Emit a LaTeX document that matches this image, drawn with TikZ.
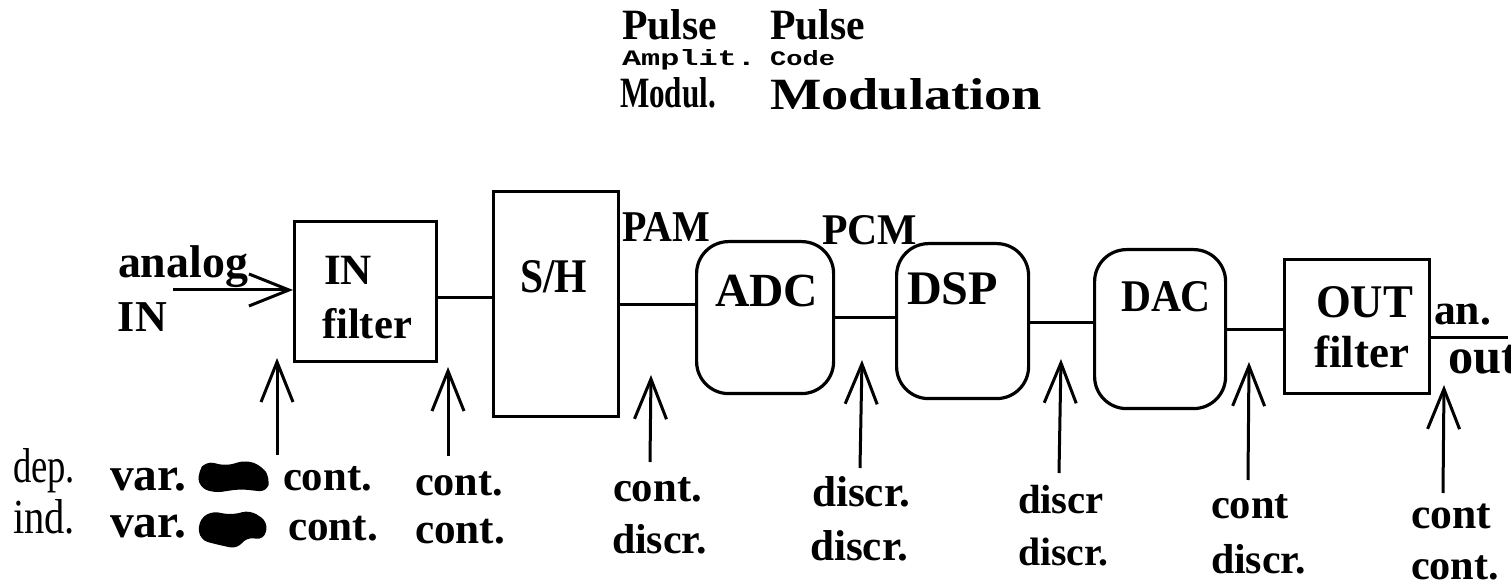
\documentclass[tikz,border=0pt]{standalone}
\usepackage{fontspec}
\setmainfont{Liberation Serif}
\newfontfamily\lab{Liberation Serif}
\newfontfamily\monolab{Liberation Mono}
\usetikzlibrary{arrows.meta}
\newdimen\px \px=0.5pt
\newcommand{\tw}[2]{\resizebox{#1\px}{!}{\lab\bfseries #2}}
\newcommand{\twh}[3]{\resizebox{#1\px}{#2\px}{\lab\bfseries #3}}
\newcommand{\twr}[3]{\resizebox{#1\px}{#2\px}{\lab #3}}
\newcommand{\twm}[3]{\resizebox{#1\px}{#2\px}{\monolab\bfseries #3}}
\begin{document}
\begin{tikzpicture}[x=0.5pt,y=-0.5pt,line width=1.5pt,
  txt/.style={inner sep=0pt,outer sep=0pt,anchor=base west},
  blk/.style={draw,line width=1.6pt,inner sep=0pt,anchor=north west},
  rblk/.style={blk,rounded corners=16pt},
  arr/.style={-{Straight Barb[length=20pt,width=16pt]},line width=1.5pt}]
\useasboundingbox (0,0) rectangle (1511,588);

% ---------- top labels ----------
\node[txt] (pulseA) at (622,40) {\twh{95}{30}{Pulse}};
\node[txt] (amplit) at (622,66) {\twm{134}{16}{Amplit.}};
\node[txt] (modul)  at (620,108) {\twh{96}{30}{Modul.}};
\node[txt] (pulseB) at (770,40) {\twh{95}{30}{Pulse}};
\node[txt] (code)   at (770,66) {\twm{65}{15}{Code}};
\node[txt] (modulation) at (770,110) {\twh{272}{31}{Modulation}};

% ---------- blocks ----------
\node[blk,minimum width=71pt,minimum height=70pt] (inf) at (293,220) {};
\node[blk,minimum width=62.5pt,minimum height=112.5pt] (sh) at (492,190) {};
\node[rblk,minimum width=68.5pt,minimum height=76pt] (adc) at (695,240) {};
\node[rblk,minimum width=66pt,minimum height=77.5pt] (dsp) at (895,242) {};
\node[rblk,minimum width=65.5pt,minimum height=79.5pt] (dac) at (1093,248) {};
\node[blk,minimum width=72.5pt,minimum height=67pt] (outf) at (1283,258) {};

% ---------- block texts ----------
\node[txt] (tIN) at (324,285) {\tw{48}{IN}};
\node[txt] (tfilA) at (322,338) {\tw{90}{filter}};
\node[txt] (tSH) at (520,293) {\twh{67}{32}{S/H}};
\node[txt] (tADC) at (715,307) {\tw{103}{ADC}};
\node[txt] (tDSP) at (907,305) {\tw{91}{DSP}};
\node[txt] (tDAC) at (1121,312) {\twh{90}{30}{DAC}};
\node[txt] (tOUT) at (1316,318) {\twh{97}{31}{OUT}};
\node[txt] (tfilB) at (1314,368) {\tw{95}{filter}};

% ---------- signal labels ----------
\node[txt] (analog) at (118,278) {\tw{130}{analog}};
\node[txt] (inIN) at (118,332) {\tw{49}{IN}};
\node[txt] (pam) at (622,242) {\twh{88}{29}{PAM}};
\node[txt] (pcm) at (822,245) {\twh{95}{29}{PCM}};
\node[txt] (an) at (1434,325) {\tw{57}{an.}};
\node[txt] (out) at (1448,373) {\tw{70}{out}};

% ---------- connectors ----------
\coordinate (instart) at (173,290);
\draw[arr] (instart) -- (inf.west |- instart);
\coordinate (l1) at (0,298);
\draw (inf.east |- l1) -- (sh.west |- l1);
\coordinate (l2) at (0,305);
\draw (sh.east |- l2) -- (adc.west |- l2);
\coordinate (l3) at (0,318);
\draw (adc.east |- l3) -- (dsp.west |- l3);
\coordinate (l4) at (0,323);
\draw (dsp.east |- l4) -- (dac.west |- l4);
\coordinate (l5) at (0,330);
\draw (dac.east |- l5) -- (outf.west |- l5);
\coordinate (outend) at (1508,338);
\draw (outf.east |- outend) -- (outend);

% ---------- upward arrows ----------
\coordinate (b1) at (277,455);  \coordinate (t1) at (277,358);
\coordinate (b2) at (448,456);  \coordinate (t2) at (448,367);
\coordinate (b3) at (650,462);  \coordinate (t3) at (651,375);
\coordinate (b4) at (860,468);  \coordinate (t4) at (862,360);
\coordinate (b5) at (1059,473); \coordinate (t5) at (1061,359);
\coordinate (b6) at (1248,480); \coordinate (t6) at (1249,362);
\coordinate (b7) at (1443,493); \coordinate (t7) at (1444,385);
\foreach \i in {1,...,7} {\draw[arr] (b\i) -- (t\i);}

% ---------- bottom labels ----------
\node[txt] (dep) at (13,482) {\twr{62}{34}{dep.}};
\node[txt] (ind) at (13,533) {\twr{62}{34}{ind.}};
\node[txt] (varA) at (110,490) {\tw{76}{var.}};
\node[txt] (varB) at (110,537) {\tw{76}{var.}};
\fill[rounded corners=4pt] (198,472) -- (206,461) -- (226,466) -- (246,460) -- (262,466) -- (270,478) -- (267,492) -- (240,489) -- (214,493) -- (199,487) -- cycle;
\fill[rounded corners=4pt] (198,522) -- (210,511) -- (232,515) -- (250,510) -- (268,522) -- (264,540) -- (246,537) -- (238,549) -- (219,545) -- (200,540) -- cycle;
\node[txt] (c1a) at (283,490) {\tw{89}{cont.}};
\node[txt] (c1b) at (288,540) {\tw{90}{cont.}};
\node[txt] (c2a) at (415,495) {\tw{88}{cont.}};
\node[txt] (c2b) at (415,543) {\tw{90}{cont.}};
\node[txt] (c3a) at (613,502) {\tw{89}{cont.}};
\node[txt] (c3b) at (612,553) {\tw{95}{discr.}};
\node[txt] (c4a) at (812,507) {\tw{98}{discr.}};
\node[txt] (c4b) at (810,560) {\tw{98}{discr.}};
\node[txt] (c5a) at (1018,513) {\tw{86}{discr}};
\node[txt] (c5b) at (1018,565) {\tw{90}{discr.}};
\node[txt] (c6a) at (1211,518) {\tw{78}{cont}};
\node[txt] (c6b) at (1211,573) {\tw{95}{discr.}};
\node[txt] (c7a) at (1411,528) {\tw{80}{cont}};
\node[txt] (c7b) at (1411,579) {\tw{88}{cont.}};
\end{tikzpicture}
\end{document}
